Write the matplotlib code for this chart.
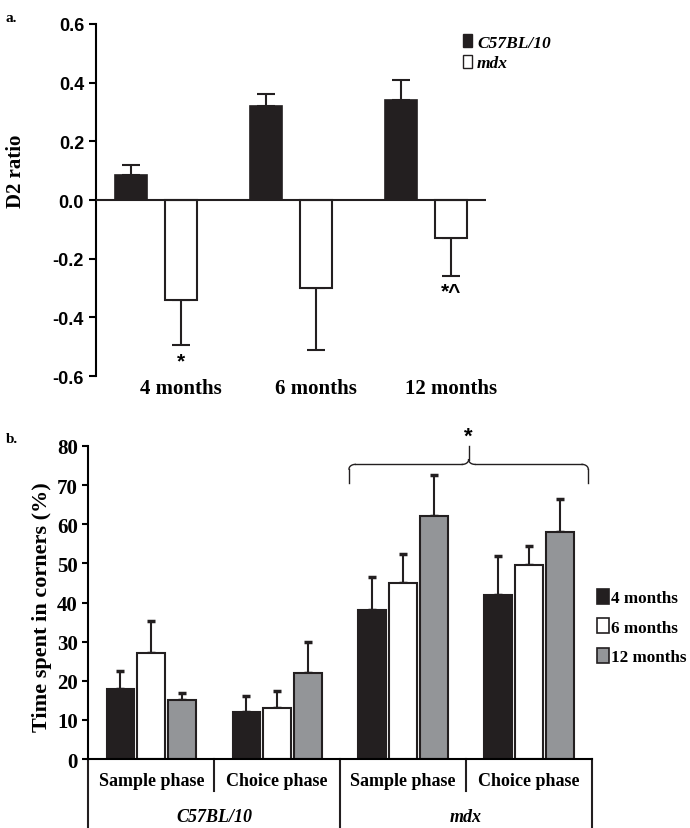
import numpy as np
import matplotlib
matplotlib.use("Agg")
import matplotlib.pyplot as plt
from matplotlib.patches import Patch

plt.rcParams['font.family'] = ['Liberation Serif', 'DejaVu Serif']
plt.rcParams['font.weight'] = 'bold'

# panel a: D2 ratio
ages = ["4 months", "6 months", "12 months"]
d2_c57 = [0.085, 0.32, 0.34]
d2_c57_top = [0.12, 0.36, 0.41]      # end of error bar
d2_mdx = [-0.34, -0.30, -0.13]
d2_mdx_bottom = [-0.495, -0.51, -0.26]
d2_marks = ["*", "", "*^"]

# panel b: time spent in corners
phases = ["Sample phase", "Choice phase", "Sample phase", "Choice phase"]
strains = ["C57BL/10", "mdx"]
age_labels = ["4 months", "6 months", "12 months"]
corners_4m = [18, 12, 38, 42]
corners_6m = [27, 13, 45, 49.5]
corners_12m = [15, 22, 62, 58]
err_4m = [22.5, 16.2, 46.5, 52]      # end of error bar
err_6m = [35.2, 17.5, 52.3, 54.4]
err_12m = [17, 30, 72.7, 66.5]

dark = "#231f20"
grey = "#939598"

fig = plt.figure(figsize=(6.9, 8.29), dpi=100)

# ---------- a ----------
ax = fig.add_axes([0.139, 0.545, 0.565, 0.425])
x = np.arange(len(ages))
off = 0.185
w = 0.237
c57 = np.array(d2_c57)
mdx = np.array(d2_mdx)
ax.bar(x - off, c57, w, color=dark, edgecolor=dark, linewidth=1.2, zorder=2)
ax.bar(x + off, mdx, w, color="white", edgecolor=dark, linewidth=1.5, zorder=2)
up = np.array(d2_c57_top) - c57
ax.errorbar(x - off, c57, yerr=[np.zeros(3), up], fmt="none", ecolor=dark,
            elinewidth=1.5, capsize=6.5, capthick=1.5, zorder=1)
dn = mdx - np.array(d2_mdx_bottom)
ax.errorbar(x + off, mdx, yerr=[dn, np.zeros(3)], fmt="none", ecolor=dark,
            elinewidth=1.5, capsize=6.5, capthick=1.5, zorder=1)
for i, m in enumerate(d2_marks):
    if m:
        ax.text(x[i] + off, d2_mdx_bottom[i] - 0.02, m, ha="center", va="top",
                fontsize=15, fontweight="bold", family=['Liberation Sans', 'DejaVu Sans'])

ax.set_xlim(-0.444, 2.444)
ax.set_ylim(-0.6, 0.6)
ax.axhline(0, color=dark, lw=1.5, zorder=3)
for s in ["top", "right", "bottom"]:
    ax.spines[s].set_visible(False)
ax.spines["left"].set_linewidth(1.5)
ax.set_yticks(np.arange(-0.6, 0.61, 0.2))
ax.set_yticklabels([f"{v:.1f}" for v in np.arange(-0.6, 0.61, 0.2)],
                   family=['Liberation Sans Narrow', 'Liberation Sans'],
                   fontsize=13, fontweight="bold")
ax.tick_params(axis="y", direction="out", length=5, width=1.5)
ax.set_xticks(x + off)
ax.set_xticklabels(ages, fontsize=15, fontweight="bold")
ax.tick_params(axis="x", length=0, pad=0)
for lab in ax.get_xticklabels():
    lab.set_y(-0.005)
ax.set_ylabel("D2 ratio", fontsize=15, fontweight="bold")
ax.yaxis.set_label_coords(-0.18, 0.585)
ax.legend(handles=[Patch(facecolor=dark, edgecolor=dark, label="C57BL/10"),
                   Patch(facecolor="white", edgecolor=dark, label="mdx")],
          loc="upper left", bbox_to_anchor=(0.915, 1.0), frameon=False,
          handlelength=0.5, handleheight=0.75, handletextpad=0.3, labelspacing=0.25,
          borderaxespad=0.2, prop={"size": 12.5, "style": "italic", "weight": "bold"})
fig.text(0.008, 0.985, "a.", fontsize=11, fontweight="bold", va="top")

# ---------- b ----------
bx = fig.add_axes([0.128, 0.0832, 0.730, 0.3776])
g = np.arange(len(phases))
sp = 0.245
bw = 0.22
series = [(corners_4m, err_4m, dark), (corners_6m, err_6m, "white"), (corners_12m, err_12m, grey)]
for k, (vals, tops, col) in enumerate(series):
    pos = g + (k - 1) * sp
    vals = np.array(vals, dtype=float)
    bx.bar(pos, vals, bw, color=col, edgecolor=dark, linewidth=1.5, zorder=2)
    bx.errorbar(pos, vals, yerr=[np.zeros(4), np.array(tops) - vals], fmt="none",
                ecolor=dark, elinewidth=1.5, capsize=3, capthick=2.5, zorder=1)

bx.set_xlim(-0.5, 3.5)
bx.set_ylim(0, 80)
for s in ["top", "right"]:
    bx.spines[s].set_visible(False)
bx.spines["left"].set_linewidth(1.5)
bx.spines["bottom"].set_linewidth(1.5)
bx.set_yticks(np.arange(0, 81, 10))
bx.set_yticklabels([str(v) for v in range(0, 81, 10)], fontsize=15, fontweight="bold")
bx.tick_params(axis="y", direction="out", length=4, width=1.5)
bx.set_xticks([])
bx.set_ylabel("Time spent in corners (%)", fontsize=16, fontweight="bold")
bx.yaxis.set_label_coords(-0.072, 0.49)

# category table under the axis
trans = bx.get_xaxis_transform()
for xb in [0.5, 2.5]:
    bx.plot([xb, xb], [0, -0.103], color=dark, lw=1.5, transform=trans, clip_on=False)
for xb in [-0.5, 1.5, 3.5]:
    bx.plot([xb, xb], [0, -0.23], color=dark, lw=1.5, transform=trans, clip_on=False)
for i, p in enumerate(phases):
    bx.text(g[i], -0.07, p, ha="center", va="center", fontsize=13, fontweight="bold",
            transform=trans)
for j, s in enumerate(strains):
    bx.text(0.5 + 2 * j, -0.183, s, ha="center", va="center", fontsize=13,
            fontweight="bold", style="italic", transform=trans)

# curly bracket over mdx groups
xl, xr = 2 - 0.43, 3 + 0.47
xc = (xl + xr) / 2
ylow, ymid, ytop = 70.5, 75.3, 80
r, h = 0.05, 1.2
t = np.linspace(0, np.pi / 2, 12)
kw = dict(color=dark, lw=1)
bx.plot([xl, xl], [ylow, ymid - h], **kw)
bx.plot(xl + r * (1 - np.cos(t)), ymid - h + h * np.sin(t), **kw)
bx.plot([xr, xr], [ylow, ymid - h], **kw)
bx.plot(xr - r * (1 - np.cos(t)), ymid - h + h * np.sin(t), **kw)
bx.plot([xl + r, xc - r], [ymid, ymid], **kw)
bx.plot([xc + r, xr - r], [ymid, ymid], **kw)
bx.plot(xc - r + r * np.sin(t), ymid + h * (1 - np.cos(t)), **kw)
bx.plot(xc + r - r * np.sin(t), ymid + h * (1 - np.cos(t)), **kw)
bx.plot([xc, xc], [ymid + h, ytop], clip_on=False, **kw)
bx.text(xc, 82.6, "*", ha="center", va="center", fontsize=16, fontweight="bold",
        family=['Liberation Sans', 'DejaVu Sans'], clip_on=False)

bx.legend(handles=[Patch(facecolor=c, edgecolor=dark, linewidth=1.2, label=l)
                   for l, c in zip(age_labels, [dark, "white", grey])],
          loc="upper left", bbox_to_anchor=(0.843, 0.307), bbox_transform=fig.transFigure,
          frameon=False, handlelength=0.7, handleheight=0.95, handletextpad=0.1,
          labelspacing=0.72, prop={"size": 12.3, "weight": "bold"})
fig.text(0.008, 0.478, "b.", fontsize=11, fontweight="bold", va="top")

fig.savefig("out.png", dpi=100)
